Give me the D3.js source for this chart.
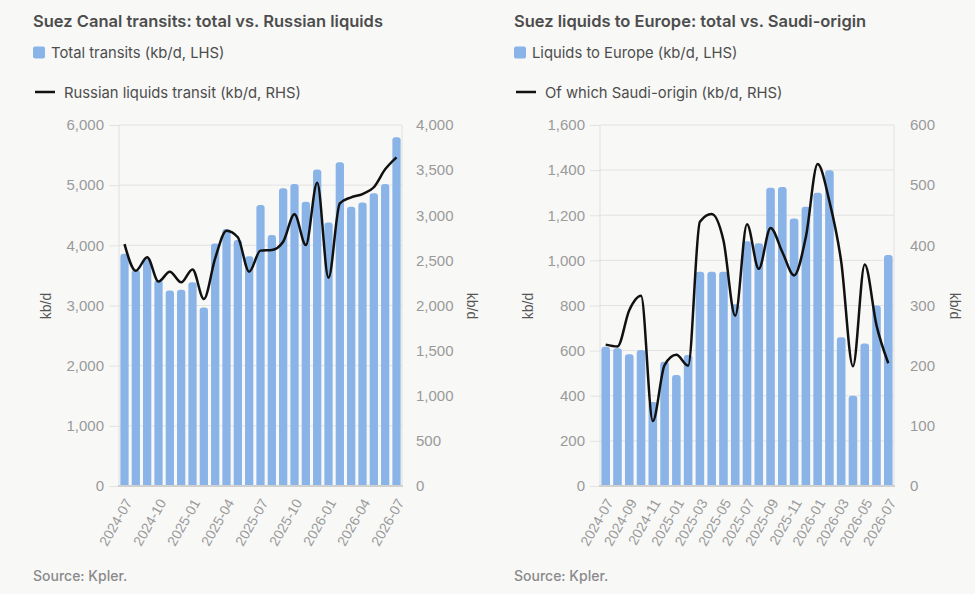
<!DOCTYPE html>
<html>
<head>
<meta charset="utf-8">
<script src="https://cdn.jsdelivr.net/npm/d3@7"></script>
<style>
  body { margin: 0; background: #f8f8f7; }
  svg { display: block; }
</style>
</head>
<body>
<script>
const W = 975, H = 594;

// months shared by both panels
const months = ['2024-07','2024-08','2024-09','2024-10','2024-11','2024-12',
  '2025-01','2025-02','2025-03','2025-04','2025-05','2025-06','2025-07','2025-08',
  '2025-09','2025-10','2025-11','2025-12','2026-01','2026-02','2026-03','2026-04',
  '2026-05','2026-06','2026-07'];

// left panel: Suez total transits (LHS) and Russian liquids (RHS)
const totalTransits = [3860, 3590, 3770, 3420, 3250, 3260, 3385, 2965, 4030, 4270, 4090, 3820, 4670,
  4170, 4950, 5020, 4725, 5260, 4380, 5380, 4640, 4710, 4865, 5020, 5795];
const russianLiquids = [2680, 2385, 2535, 2265, 2375, 2257, 2400, 2072, 2523, 2829, 2756, 2375, 2608,
  2615, 2707, 3010, 2670, 3361, 2308, 3132, 3199, 3235, 3310, 3509, 3642];
const leftTicksL = [0, 1000, 2000, 3000, 4000, 5000, 6000];
const leftTicksR = [0, 500, 1000, 1500, 2000, 2500, 3000, 3500, 4000];
const leftXLabels = ['2024-07','2024-10','2025-01','2025-04','2025-07','2025-10','2026-01','2026-04','2026-07'];

// right panel: liquids to Europe (LHS) and Saudi-origin (RHS)
const liquidsEurope = [617, 610, 584, 603, 372, 551, 492, 581, 950, 950, 950, 805, 1085,
  1076, 1322, 1325, 1186, 1238, 1300, 1400, 659, 400, 632, 800, 1024];
const saudiOrigin = [235, 232, 292, 316, 108, 201, 218, 200, 439, 452, 408, 283, 435,
  361, 429, 389, 350, 414, 535, 473, 373, 199, 368, 267, 204];
const rightTicksL = [0, 200, 400, 600, 800, 1000, 1200, 1400, 1600];
const rightTicksR = [0, 100, 200, 300, 400, 500, 600];
const rightXLabels = ['2024-07','2024-09','2024-11','2025-01','2025-03','2025-05','2025-07',
  '2025-09','2025-11','2026-01','2026-03','2026-05','2026-07'];

const barColor = '#8ab4e8';
const titleFont = 'Inter, "Noto Sans", sans-serif';
const tickFont = '"Liberation Sans", Arial, sans-serif';

const svg = d3.select('body').append('svg').attr('width', W).attr('height', H);
svg.append('rect').attr('width', W).attr('height', H).attr('fill', '#f8f8f7');

function panel(o) {
  const g = svg.append('g');
  const top = 125, bottom = 486;

  // title + legend
  g.append('text').attr('x', o.tx).attr('y', 27).text(o.title)
    .attr('font-family', titleFont).attr('font-size', 16.5).attr('font-weight', 600).attr('fill', '#4d4d4d');
  g.append('rect').attr('x', o.tx).attr('y', 46.5).attr('width', 12).attr('height', 12).attr('rx', 2)
    .attr('fill', barColor);
  g.append('text').attr('x', o.tx + 18).attr('y', 57.5).text(o.barName)
    .attr('font-family', titleFont).attr('font-size', 14.8).attr('fill', '#4d4d4d');
  g.append('line').attr('x1', o.tx + 2).attr('x2', o.tx + 22).attr('y1', 92).attr('y2', 92)
    .attr('stroke', '#111').attr('stroke-width', 2.5);
  g.append('text').attr('x', o.tx + 31).attr('y', 97.5).text(o.lineName)
    .attr('font-family', titleFont).attr('font-size', 14.8).attr('fill', '#4d4d4d');

  const x = d3.scaleBand().domain(months).range([o.x0, o.x1]).paddingInner(0.27).paddingOuter(0.12);
  const yL = d3.scaleLinear().domain([0, d3.max(o.ticksL)]).range([bottom, top]);
  const yR = d3.scaleLinear().domain([0, d3.max(o.ticksR)]).range([bottom, top]);

  // gridlines
  g.append('g').selectAll('line').data(o.ticksL).join('line')
    .attr('x1', o.x0).attr('x2', o.x1).attr('y1', d => yL(d)).attr('y2', d => yL(d))
    .attr('stroke', '#e2e2e2').attr('stroke-width', 1);

  // left axis
  const ax = g.append('g').attr('transform', `translate(${o.x0},0)`)
    .call(d3.axisLeft(yL).tickValues(o.ticksL).tickFormat(d3.format(',')).tickSize(10).tickPadding(5));
  ax.select('.domain').remove();
  ax.selectAll('line').attr('stroke', '#e2e2e2');
  ax.selectAll('text').attr('font-family', tickFont).attr('font-size', 15).attr('fill', '#9a9a9a');

  // right axis
  const ar = g.append('g').attr('transform', `translate(${o.x1},0)`)
    .call(d3.axisRight(yR).tickValues(o.ticksR).tickFormat(d3.format(',')).tickSize(0).tickPadding(o.rPad));
  ar.select('.domain').remove();
  ar.selectAll('text').attr('font-family', tickFont).attr('font-size', 15).attr('fill', '#9a9a9a');

  // frame
  g.append('line').attr('x1', o.x0).attr('x2', o.x0).attr('y1', top).attr('y2', bottom)
    .attr('stroke', '#e0e0e0');
  g.append('line').attr('x1', o.x1).attr('x2', o.x1).attr('y1', top).attr('y2', bottom)
    .attr('stroke', '#e0e0e0');

  // bars with rounded tops
  const bw = x.bandwidth(), r = 3;
  g.append('g').selectAll('path').data(o.bars).join('path')
    .attr('fill', barColor)
    .attr('d', (d, i) => {
      const bx = x(months[i]), by = yL(d);
      return `M${bx},${bottom}V${by + r}Q${bx},${by} ${bx + r},${by}H${bx + bw - r}Q${bx + bw},${by} ${bx + bw},${by + r}V${bottom}Z`;
    });

  // bottom axis line
  g.append('line').attr('x1', o.x0 - 1).attr('x2', o.x1 + 1).attr('y1', bottom).attr('y2', bottom)
    .attr('stroke', '#d0d0d0').attr('stroke-width', 2);

  // line series on RHS
  const line = d3.line().x((d, i) => x(months[i]) + bw / 2).y(d => yR(d)).curve(d3.curveMonotoneX);
  g.append('path').datum(o.line).attr('d', line)
    .attr('fill', 'none').attr('stroke', '#111').attr('stroke-width', 2.5).attr('stroke-linejoin', 'round');

  // x labels
  g.append('g').selectAll('text').data(o.xLabels).join('text')
    .attr('transform', d => `translate(${x(d) + bw / 2 + 4},${bottom + 14}) rotate(-60)`)
    .attr('text-anchor', 'end').attr('dy', '0.35em').text(d => d)
    .attr('font-family', tickFont).attr('font-size', 14).attr('fill', '#9a9a9a');

  // axis titles
  g.append('text').attr('transform', `translate(${o.ylx},306) rotate(-90)`).attr('text-anchor', 'middle')
    .attr('dy', '0.35em').text('kb/d').attr('font-family', tickFont).attr('font-size', 14).attr('fill', '#555');
  g.append('text').attr('transform', `translate(${o.yrx},306) rotate(90)`).attr('text-anchor', 'middle')
    .attr('dy', '0.35em').text('kb/d').attr('font-family', tickFont).attr('font-size', 14).attr('fill', '#555');

  // source
  g.append('text').attr('x', o.tx).attr('y', 581).text('Source: Kpler.')
    .attr('font-family', titleFont).attr('font-size', 14).attr('font-weight', 500).attr('fill', '#8a8a8a');
}

panel({
  tx: 33, x0: 119, x1: 402, ylx: 46, yrx: 472, rPad: 14,
  title: 'Suez Canal transits: total vs. Russian liquids',
  barName: 'Total transits (kb/d, LHS)',
  lineName: 'Russian liquids transit (kb/d, RHS)',
  bars: totalTransits, line: russianLiquids,
  ticksL: leftTicksL, ticksR: leftTicksR, xLabels: leftXLabels
});

panel({
  tx: 514, x0: 600, x1: 894, ylx: 528, yrx: 955, rPad: 16,
  title: 'Suez liquids to Europe: total vs. Saudi-origin',
  barName: 'Liquids to Europe (kb/d, LHS)',
  lineName: 'Of which Saudi-origin (kb/d, RHS)',
  bars: liquidsEurope, line: saudiOrigin,
  ticksL: rightTicksL, ticksR: rightTicksR, xLabels: rightXLabels
});
</script>
</body>
</html>
